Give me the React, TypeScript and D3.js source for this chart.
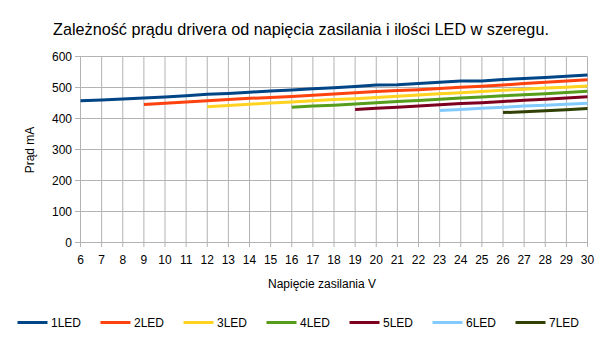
import React from "react";
import * as d3 from "d3";

const voltages = [6,7,8,9,10,11,12,13,14,15,16,17,18,19,20,21,22,23,24,25,26,27,28,29,30];
const seriesNames = ["1LED","2LED","3LED","4LED","5LED","6LED","7LED"];
const seriesColors = ["#004586","#ff420e","#ffd320","#579d1c","#7e0021","#83caff","#314004"];
const led1 = [457,460,463,466,469,473,478,481,485,489,492,496,499,503,508,509,513,517,521,521,526,529,532,536,540];
const led2 = [null,null,null,445,449,453,457,461,465,468,471,475,479,483,487,490,493,497,501,504,508,513,517,521,525];
const led3 = [null,null,null,null,null,null,438,442,446,450,453,457,461,464,468,472,476,480,483,487,491,494,498,501,505];
const led4 = [null,null,null,null,null,null,null,null,null,null,436,440,443,447,451,455,458,462,466,469,473,477,480,484,488];
const led5 = [null,null,null,null,null,null,null,null,null,null,null,null,null,429,433,436,440,444,448,451,455,459,462,466,470];
const led6 = [null,null,null,null,null,null,null,null,null,null,null,null,null,null,null,null,null,426,429,433,436,440,443,446,449];
const led7 = [null,null,null,null,null,null,null,null,null,null,null,null,null,null,null,null,null,null,null,null,419,422,425,428,432];
const allSeries = [led1,led2,led3,led4,led5,led6,led7];
const yTicks = [0,100,200,300,400,500,600];

const title = "Zależność prądu drivera od napięcia zasilania i ilości LED w szeregu.";
const xTitle = "Napięcie zasilania V";
const yTitle = "Prąd mA";

export default function App() {
  const W = 605, H = 340;
  const x = d3.scaleLinear().domain([6, 30]).range([80.5, 587.5]);
  const y = d3.scaleLinear().domain([0, 600]).range([242.5, 56.5]);
  const font = "'Liberation Sans', Arial, sans-serif";
  const line = d3.line<[number, number | null]>()
    .defined(d => d[1] !== null)
    .x(d => x(d[0]))
    .y(d => y(d[1] as number));
  const grid = "#b3b3b3";
  return (
    <svg width={W} height={H} style={{ position: "absolute", left: 0, top: 0 }} fontFamily={font}>
      <rect width={W} height={H} fill="#fff" />
      <text x={301} y={35} textAnchor="middle" fontSize={16.2} fill="#000">{title}</text>
      {yTicks.map(t => (
        <g key={"y" + t}>
          <line x1={75} x2={587.5} y1={y(t)} y2={y(t)} stroke={grid} strokeWidth={1} />
          <text x={72} y={y(t) + 4.5} textAnchor="end" fontSize={12} fill="#000">{t}</text>
        </g>
      ))}
      {voltages.map(v => (
        <g key={"x" + v}>
          <line x1={x(v)} x2={x(v)} y1={56.5} y2={247} stroke={grid} strokeWidth={1} />
          <text x={x(v)} y={264} textAnchor="middle" fontSize={12} fill="#000">{v}</text>
        </g>
      ))}
      <text x={322} y={288} textAnchor="middle" fontSize={12} fill="#000">{xTitle}</text>
      <text transform={`translate(34,150) rotate(-90)`} textAnchor="middle" fontSize={12} fill="#000">{yTitle}</text>
      {allSeries.map((s, i) => (
        <path key={seriesNames[i]}
          d={line(voltages.map((v, j) => [v, s[j]] as [number, number | null])) || ""}
          fill="none" stroke={seriesColors[i]} strokeWidth={3} />
      ))}
      {seriesNames.map((n, i) => {
        const lx = 17.5 + i * 83;
        return (
          <g key={"l" + n}>
            <line x1={lx} x2={lx + 30} y1={322.5} y2={322.5} stroke={seriesColors[i]} strokeWidth={3} />
            <text x={lx + 33.5} y={327} fontSize={12} fill="#000">{n}</text>
          </g>
        );
      })}
    </svg>
  );
}
